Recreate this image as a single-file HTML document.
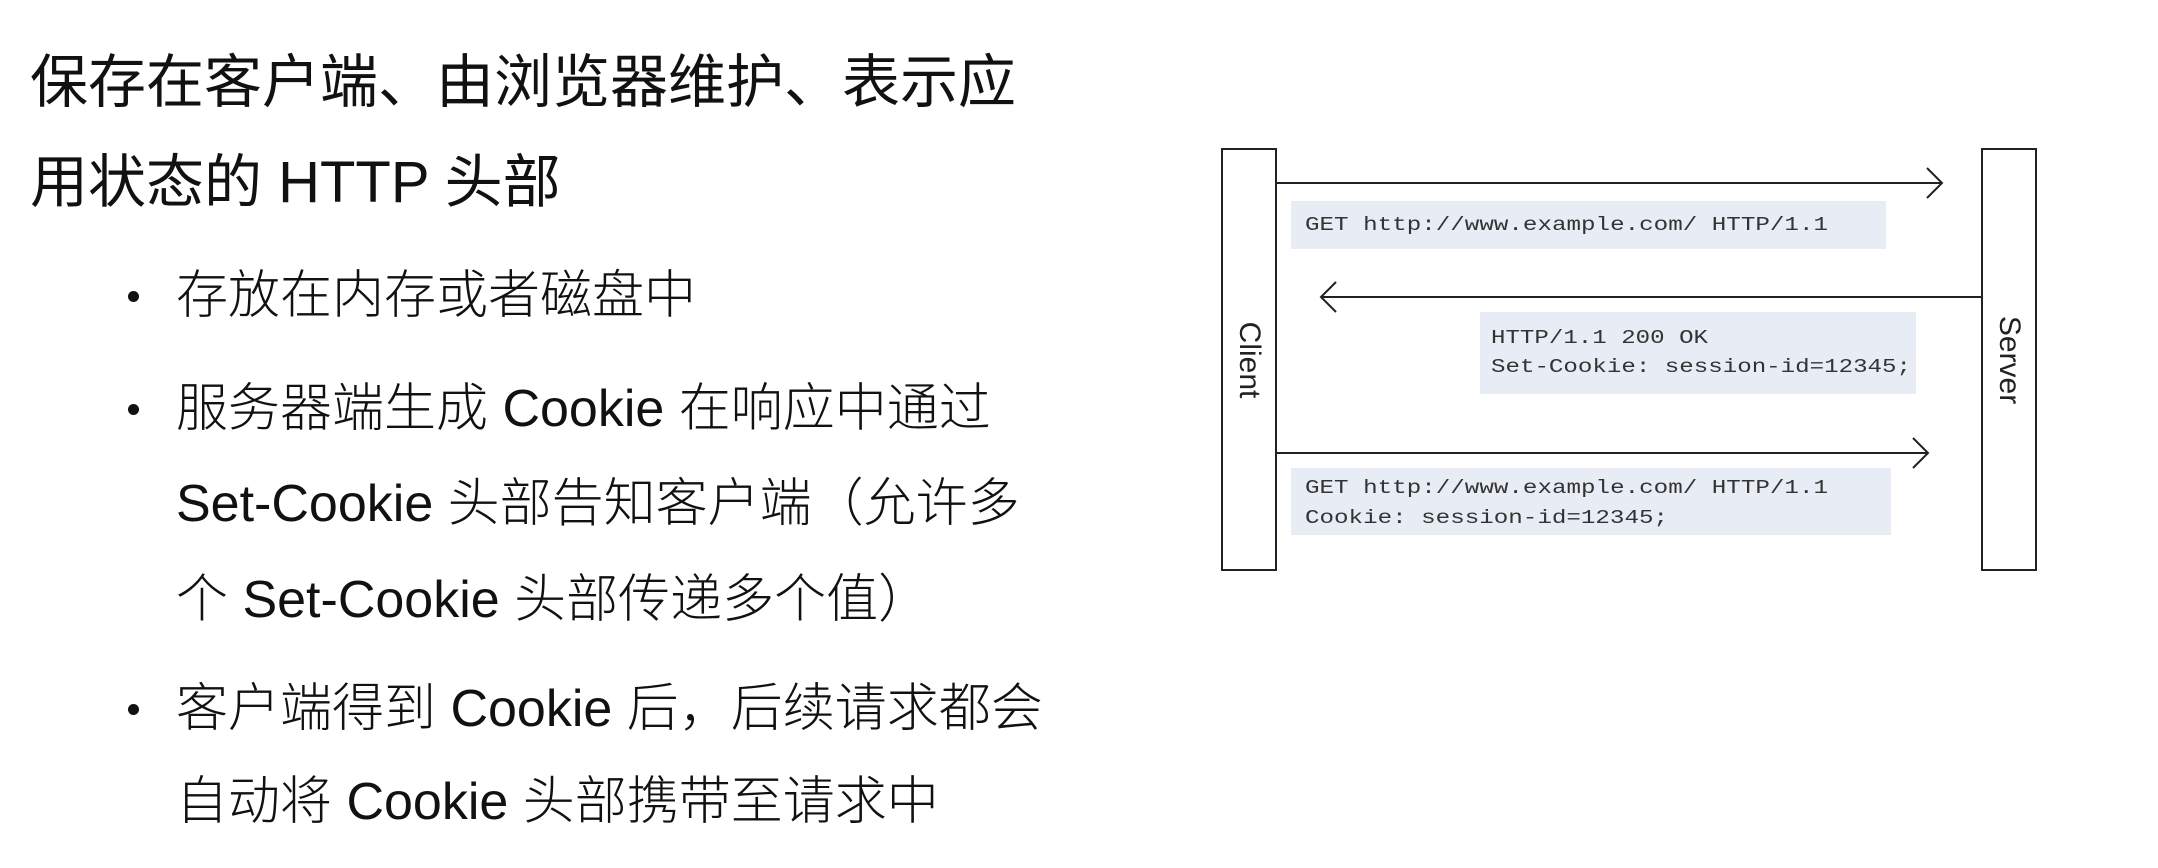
<!DOCTYPE html>
<html><head><meta charset="utf-8"><style>
html,body{margin:0;padding:0;background:#fff;}
body{width:2158px;height:868px;position:relative;overflow:hidden;font-family:"Liberation Sans","Noto Sans CJK SC",sans-serif;color:#111;}
.t{position:absolute;left:30px;font-size:58px;font-weight:400;white-space:nowrap;line-height:1;}
.b{position:absolute;left:176px;font-size:52px;white-space:nowrap;line-height:1;font-weight:300;}
.dot{position:absolute;left:128px;width:11px;height:11px;border-radius:50%;background:#111;}
svg{position:absolute;left:0;top:0;}
</style></head><body>
<div class="t" style="top:54px">保存在客户端、由浏览器维护、表示应</div>
<div class="t" style="top:154px">用状态的 HTTP 头部</div>

<div class="dot" style="top:291px"></div>
<div class="b" style="top:270px">存放在内存或者磁盘中</div>
<div class="dot" style="top:404px"></div>
<div class="b" style="top:383px">服务器端生成 Cookie 在响应中通过</div>
<div class="b" style="top:478px">Set-Cookie 头部告知客户端（允许多</div>
<div class="b" style="top:574px">个 Set-Cookie 头部传递多个值）</div>
<div class="dot" style="top:704px"></div>
<div class="b" style="top:683px">客户端得到 Cookie 后，后续请求都会</div>
<div class="b" style="top:776px">自动将 Cookie 头部携带至请求中</div>

<svg width="2158" height="868" viewBox="0 0 2158 868">
<g fill="none" stroke="#222" stroke-width="2">
<rect x="1222" y="149" width="54" height="421" fill="#fff"/>
<rect x="1982" y="149" width="54" height="421" fill="#fff"/>
</g>
<g fill="#e8edf5">
<rect x="1291" y="201" width="595" height="48"/>
<rect x="1480" y="312" width="436" height="82"/>
<rect x="1291" y="468" width="600" height="67"/>
</g>
<g stroke="#222" stroke-width="2" fill="none">
<line x1="1276" y1="183" x2="1941" y2="183"/>
<polyline points="1927,168 1942,183 1927,198"/>
<line x1="1321" y1="297" x2="1982" y2="297"/>
<polyline points="1336,282 1321,297 1336,312"/>
<line x1="1276" y1="453" x2="1927" y2="453"/>
<polyline points="1913,438 1928,453 1913,468"/>
</g>
<g font-family="Liberation Mono, monospace" font-size="19" fill="#333">
<text x="1305" y="230" textLength="523" lengthAdjust="spacingAndGlyphs">GET http://www.example.com/ HTTP/1.1</text>
<text x="1491" y="343" textLength="217" lengthAdjust="spacingAndGlyphs">HTTP/1.1 200 OK</text>
<text x="1491" y="372" textLength="420" lengthAdjust="spacingAndGlyphs">Set-Cookie: session-id=12345;</text>
<text x="1305" y="493" textLength="523" lengthAdjust="spacingAndGlyphs">GET http://www.example.com/ HTTP/1.1</text>
<text x="1305" y="523" textLength="363" lengthAdjust="spacingAndGlyphs">Cookie: session-id=12345;</text>
</g>
<g font-family="Liberation Sans, sans-serif" font-size="30" fill="#222" text-anchor="middle">
<text transform="translate(1240,360) rotate(90)">Client</text>
<text transform="translate(2000,360) rotate(90)">Server</text>
</g>
</svg>
</body></html>
